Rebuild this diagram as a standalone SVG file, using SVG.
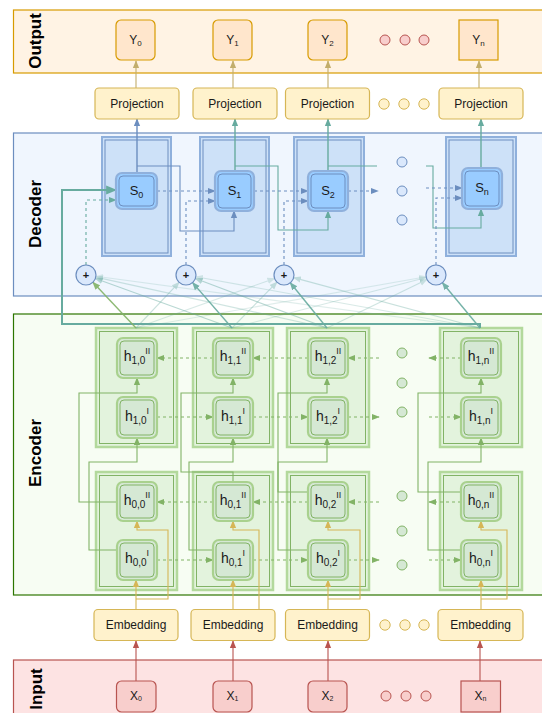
<svg xmlns="http://www.w3.org/2000/svg" width="542" height="713" viewBox="0 0 542 713">
<defs>
<style>
text{font-family:"Liberation Sans",Arial,Helvetica,sans-serif;fill:#1a1a1a}
.bl{font-size:17px;font-weight:bold;fill:#000}
.t12{font-size:12px}
.sub{font-size:8px}
.ybox{fill:#ffe6cc;stroke:#d79b00;stroke-width:1.2}
.pbox{fill:#fff2cc;stroke:#d6b656;stroke-width:1.2}
.xbox{fill:#f8cecc;stroke:#b85450;stroke-width:1.2}
.dcO{fill:#cde1f8;stroke:#8fb0dc;stroke-width:2}
.dcI{fill:none;stroke:#6c8ebf;stroke-width:1}
.sO{fill:#99ccff;stroke:#8fb0dc;stroke-width:2.2}
.sI{fill:none;stroke:#6c8ebf;stroke-width:1}
.ecO{fill:#e3f3dd;stroke:#b3d99c;stroke-width:2.5}
.ecI{fill:none;stroke:#82b366;stroke-width:1}
.hO{fill:#d5e8d4;stroke:#a9d18e;stroke-width:2.2}
.hI{fill:none;stroke:#82b366;stroke-width:1}
.plus{fill:#dae8fc;stroke:#6c8ebf;stroke-width:1.2}
.dotO{fill:#f8cecc;stroke:#b85450}
.dotY{fill:#fff2cc;stroke:#d6b656}
.dotB{fill:#dae8fc;stroke:#6c8ebf}
.dotG{fill:#d5e8d4;stroke:#82b366}
.c{fill:none;stroke-width:1.1}
.blue{stroke:#6c8ebf}
.teal{stroke:#67ab9f}
.green{stroke:#82b366}
.yel{stroke:#d6b656}
.red{stroke:#b85450}
.tan{stroke:#c2ad6b}
.dash{stroke-dasharray:3,3}
</style>
<marker id="aBlue" viewBox="0 0 10 10" refX="9" refY="5" markerWidth="8" markerHeight="8" markerUnits="userSpaceOnUse" orient="auto"><path d="M0,1 L10,5 L0,9 z" fill="#6c8ebf"/></marker>
<marker id="aTeal" viewBox="0 0 10 10" refX="9" refY="5" markerWidth="8" markerHeight="8" markerUnits="userSpaceOnUse" orient="auto"><path d="M0,1 L10,5 L0,9 z" fill="#67ab9f"/></marker>
<marker id="aTealL" viewBox="0 0 10 10" refX="9" refY="5" markerWidth="11" markerHeight="11" markerUnits="userSpaceOnUse" orient="auto"><path d="M0,1 L10,5 L0,9 z" fill="#67ab9f"/></marker>
<marker id="aGreen" viewBox="0 0 10 10" refX="9" refY="5" markerWidth="8" markerHeight="8" markerUnits="userSpaceOnUse" orient="auto"><path d="M0,1 L10,5 L0,9 z" fill="#82b366"/></marker>
<marker id="aYel" viewBox="0 0 10 10" refX="9" refY="5" markerWidth="8" markerHeight="8" markerUnits="userSpaceOnUse" orient="auto"><path d="M0,1 L10,5 L0,9 z" fill="#d6b656"/></marker>
<marker id="aRed" viewBox="0 0 10 10" refX="9" refY="5" markerWidth="8" markerHeight="8" markerUnits="userSpaceOnUse" orient="auto"><path d="M0,1 L10,5 L0,9 z" fill="#b85450"/></marker>
<marker id="aTan" viewBox="0 0 10 10" refX="9" refY="5" markerWidth="8" markerHeight="8" markerUnits="userSpaceOnUse" orient="auto"><path d="M0,1 L10,5 L0,9 z" fill="#c2ad6b"/></marker>
</defs>
<rect width="542" height="713" fill="#ffffff"/>

<!-- bands -->
<g id="band-output"><rect x="13.5" y="10" width="540" height="63" fill="#fff3e4" stroke="#d79b00" stroke-width="1.2"/><text class="bl" transform="translate(35,41) rotate(-90)" text-anchor="middle" dominant-baseline="central">Output</text></g>
<g id="band-decoder"><rect x="13.5" y="133" width="540" height="163" fill="#f0f6fe" stroke="#6c8ebf" stroke-width="1.2"/><text class="bl" transform="translate(35,214) rotate(-90)" text-anchor="middle" dominant-baseline="central">Decoder</text></g>
<g id="band-encoder"><rect x="13.5" y="314" width="540" height="281" fill="#f7fdf3" stroke="#2d7600" stroke-width="1.2"/><text class="bl" transform="translate(35,453) rotate(-90)" text-anchor="middle" dominant-baseline="central">Encoder</text></g>
<g id="band-input"><rect x="13.5" y="660" width="540" height="60" fill="#fde3e3" stroke="#b85450" stroke-width="1.2"/><text class="bl" transform="translate(36,689) rotate(-90)" text-anchor="middle" dominant-baseline="central">Input</text></g>

<!-- decoder containers -->
<g id="dec-cell-0"><rect class="dcO" x="102" y="137" width="69" height="119"/><rect class="dcI" x="105" y="140" width="63" height="113"/></g>
<g id="dec-cell-1"><rect class="dcO" x="200" y="137" width="69" height="119"/><rect class="dcI" x="203" y="140" width="63" height="113"/></g>
<g id="dec-cell-2"><rect class="dcO" x="294" y="137" width="70" height="119"/><rect class="dcI" x="297" y="140" width="64" height="113"/></g>
<g id="dec-cell-n"><rect class="dcO" x="446" y="137" width="70" height="119"/><rect class="dcI" x="449" y="140" width="64" height="113"/></g>

<!-- encoder containers -->
<g id="enc-cell-1-0"><rect class="ecO" x="96" y="328" width="81" height="119"/><rect class="ecI" x="99.5" y="331.5" width="74" height="112"/></g>
<g id="enc-cell-1-1"><rect class="ecO" x="193" y="328" width="80" height="119"/><rect class="ecI" x="196.5" y="331.5" width="73" height="112"/></g>
<g id="enc-cell-1-2"><rect class="ecO" x="287" y="328" width="82" height="119"/><rect class="ecI" x="290.5" y="331.5" width="75" height="112"/></g>
<g id="enc-cell-1-n"><rect class="ecO" x="440" y="328" width="82" height="119"/><rect class="ecI" x="443.5" y="331.5" width="75" height="112"/></g>
<g id="enc-cell-0-0"><rect class="ecO" x="96" y="472" width="81" height="118"/><rect class="ecI" x="99.5" y="475.5" width="74" height="111"/></g>
<g id="enc-cell-0-1"><rect class="ecO" x="193" y="472" width="80" height="118"/><rect class="ecI" x="196.5" y="475.5" width="73" height="111"/></g>
<g id="enc-cell-0-2"><rect class="ecO" x="287" y="472" width="82" height="118"/><rect class="ecI" x="290.5" y="475.5" width="75" height="111"/></g>
<g id="enc-cell-0-n"><rect class="ecO" x="440" y="472" width="82" height="118"/><rect class="ecI" x="443.5" y="475.5" width="75" height="111"/></g>

<!-- connectors -->
<g id="connectors">
<path class="c tan" d="M136,88 V61" marker-end="url(#aTan)"/>
<path class="c tan" d="M233,88 V61" marker-end="url(#aTan)"/>
<path class="c tan" d="M328,88 V61" marker-end="url(#aTan)"/>
<path class="c tan" d="M479,88 V61" marker-end="url(#aTan)"/>
<path class="c blue" d="M137,173 V119" marker-end="url(#aBlue)" style="stroke-width:1.4"/>
<path class="c teal" d="M235,171 V119" marker-end="url(#aTeal)" style="stroke-width:1.4"/>
<path class="c teal" d="M328,171 V119" marker-end="url(#aTeal)" style="stroke-width:1.4"/>
<path class="c teal" d="M481,168 V119" marker-end="url(#aTeal)" style="stroke-width:1.4"/>
<path class="c blue" d="M137,166 H180 V231 H234 V211" marker-end="url(#aBlue)"/>
<path class="c teal" d="M235,166 H278 V230 H328 V211" marker-end="url(#aTeal)"/>
<path class="c teal" d="M328,166 H377"/>
<path class="c teal" d="M426,166 H433 V228 H481 V209" marker-end="url(#aTeal)"/>
<path class="c blue dash" d="M157,191 H215" marker-end="url(#aBlue)"/>
<path class="c blue dash" d="M254,191 H308" marker-end="url(#aBlue)"/>
<path class="c blue dash" d="M348,191 H378" marker-end="url(#aBlue)"/>
<path class="c blue dash" d="M426,188 H462" marker-end="url(#aBlue)"/>
<path class="c teal dash" d="M86,265 V200 H116" marker-end="url(#aTeal)"/>
<path class="c blue dash" d="M186,265 V201 H215" marker-end="url(#aBlue)"/>
<path class="c blue dash" d="M284,265 V201 H308" marker-end="url(#aBlue)"/>
<path class="c blue dash" d="M436,265 V198 H462" marker-end="url(#aBlue)"/>
<path class="c teal" d="M480,328 V324 H62 V190 H116" marker-end="url(#aTealL)" style="stroke-width:2"/>
<path class="c green" d="M136,328 L92.9,282.3" marker-end="url(#aGreen)" opacity="0.9" style="stroke-width:1.4"/>
<path class="c teal" d="M136,328 L179.1,282.3" marker-end="url(#aTeal)" opacity="0.35"/>
<path class="c teal" d="M136,328 L274.6,278.4" marker-end="url(#aTeal)" opacity="0.25"/>
<path class="c teal" d="M136,328 L426.2,276.7" marker-end="url(#aTeal)" opacity="0.2"/>
<path class="c teal" d="M232,328 L95.4,278.4" marker-end="url(#aTeal)" opacity="0.45"/>
<path class="c teal" d="M232,328 L192.6,282.6" marker-end="url(#aTeal)" opacity="0.9" style="stroke-width:1.4"/>
<path class="c teal" d="M232,328 L277,282.1" marker-end="url(#aTeal)" opacity="0.35"/>
<path class="c teal" d="M232,328 L426.3,277.5" marker-end="url(#aTeal)" opacity="0.25"/>
<path class="c teal" d="M327,328 L95.8,277.1" marker-end="url(#aTeal)" opacity="0.3"/>
<path class="c teal" d="M327,328 L195.4,278.5" marker-end="url(#aTeal)" opacity="0.45"/>
<path class="c teal" d="M327,328 L290.3,282.8" marker-end="url(#aTeal)" opacity="0.9" style="stroke-width:1.4"/>
<path class="c teal" d="M327,328 L427,279.4" marker-end="url(#aTeal)" opacity="0.3"/>
<path class="c teal" d="M480,328 L95.9,276.3" marker-end="url(#aTeal)" opacity="0.2"/>
<path class="c teal" d="M480,328 L195.8,276.8" marker-end="url(#aTeal)" opacity="0.25"/>
<path class="c teal" d="M480,328 L293.7,277.6" marker-end="url(#aTeal)" opacity="0.35"/>
<path class="c teal" d="M480,328 L442.4,282.7" marker-end="url(#aTeal)" opacity="0.9" style="stroke-width:1.4"/>
<path class="c green dash" d="M213,358 H157" marker-end="url(#aGreen)"/>
<path class="c green dash" d="M308,358 H253" marker-end="url(#aGreen)"/>
<path class="c green dash" d="M379,358 H348" marker-end="url(#aGreen)"/>
<path class="c green dash" d="M461,358 H429" marker-end="url(#aGreen)"/>
<path class="c green dash" d="M157,417 H213" marker-end="url(#aGreen)"/>
<path class="c green dash" d="M253,417 H308" marker-end="url(#aGreen)"/>
<path class="c green dash" d="M348,417 H379" marker-end="url(#aGreen)"/>
<path class="c green dash" d="M429,417 H461" marker-end="url(#aGreen)"/>
<path class="c green dash" d="M213,502 H157" marker-end="url(#aGreen)"/>
<path class="c green dash" d="M308,502 H253" marker-end="url(#aGreen)"/>
<path class="c green dash" d="M379,502 H348" marker-end="url(#aGreen)"/>
<path class="c green dash" d="M461,502 H429" marker-end="url(#aGreen)"/>
<path class="c green dash" d="M157,560 H213" marker-end="url(#aGreen)"/>
<path class="c green dash" d="M253,560 H308" marker-end="url(#aGreen)"/>
<path class="c green dash" d="M348,560 H379" marker-end="url(#aGreen)"/>
<path class="c green dash" d="M429,560 H461" marker-end="url(#aGreen)"/>
<path class="c green" d="M117,502 H79 V393 H137 V378" marker-end="url(#aGreen)"/>
<path class="c green" d="M117,550 H89 V462 H137 V438" marker-end="url(#aGreen)"/>
<path class="c green" d="M233,482 V472 H181 V393 H233 V378" marker-end="url(#aGreen)"/>
<path class="c green" d="M213,550 H189 V462 H233 V438" marker-end="url(#aGreen)"/>
<path class="c green" d="M308,492 H278 V393 H327 V378" marker-end="url(#aGreen)"/>
<path class="c green" d="M308,550 H278 V462 H327 V438" marker-end="url(#aGreen)"/>
<path class="c green" d="M461,492 H418 V393 H481 V378" marker-end="url(#aGreen)"/>
<path class="c green" d="M461,550 H428 V462 H481 V438" marker-end="url(#aGreen)"/>
<path class="c yel" d="M136,609 V580" marker-end="url(#aYel)"/>
<path class="c yel" d="M136,599 H168 V530 H137 V521" marker-end="url(#aYel)"/>
<path class="c yel" d="M233,609 V580" marker-end="url(#aYel)"/>
<path class="c yel" d="M259,609 V530 H233 V521" marker-end="url(#aYel)"/>
<path class="c yel" d="M328,609 V580" marker-end="url(#aYel)"/>
<path class="c yel" d="M328,599 H360 V530 H328 V521" marker-end="url(#aYel)"/>
<path class="c yel" d="M481,609 V580" marker-end="url(#aYel)"/>
<path class="c yel" d="M481,599 H507 V530 H481 V521" marker-end="url(#aYel)"/>
<path class="c red" d="M136,681 V641" marker-end="url(#aRed)"/>
<path class="c red" d="M233,681 V641" marker-end="url(#aRed)"/>
<path class="c red" d="M328,681 V641" marker-end="url(#aRed)"/>
<path class="c red" d="M480,681 V641" marker-end="url(#aRed)"/>
</g>

<!-- outputs -->
<g id="y0"><rect class="ybox" x="116" y="20" width="39" height="40" rx="5"/><text x="135.5" y="44" text-anchor="middle" class="t12">Y<tspan class="sub" dy="2">0</tspan></text></g>
<g id="y1"><rect class="ybox" x="213" y="20" width="39" height="40" rx="5"/><text x="232.5" y="44" text-anchor="middle" class="t12">Y<tspan class="sub" dy="2">1</tspan></text></g>
<g id="y2"><rect class="ybox" x="308" y="20" width="39" height="40" rx="5"/><text x="327.5" y="44" text-anchor="middle" class="t12">Y<tspan class="sub" dy="2">2</tspan></text></g>
<g id="yn"><rect class="ybox" x="459" y="20" width="39" height="40"/><text x="478.5" y="44" text-anchor="middle" class="t12">Y<tspan class="sub" dy="2">n</tspan></text></g>
<g id="out-dots"><circle class="dotO" cx="385" cy="40" r="5"/><circle class="dotO" cx="405" cy="40" r="5"/><circle class="dotO" cx="424" cy="40" r="5"/></g>

<!-- projections -->
<g id="proj0"><rect class="pbox" x="95" y="88" width="84" height="31" rx="4"/><text x="137" y="107.5" text-anchor="middle" class="t12">Projection</text></g>
<g id="proj1"><rect class="pbox" x="193" y="88" width="84" height="31" rx="4"/><text x="235" y="107.5" text-anchor="middle" class="t12">Projection</text></g>
<g id="proj2"><rect class="pbox" x="285.5" y="88" width="84" height="31" rx="4"/><text x="327.5" y="107.5" text-anchor="middle" class="t12">Projection</text></g>
<g id="projn"><rect class="pbox" x="439" y="88" width="84" height="31" rx="4"/><text x="481" y="107.5" text-anchor="middle" class="t12">Projection</text></g>
<g id="proj-dots"><circle class="dotY" cx="384" cy="104" r="5.2"/><circle class="dotY" cx="404" cy="104" r="5.2"/><circle class="dotY" cx="424" cy="104" r="5.2"/></g>

<!-- decoder states -->
<g id="s0"><rect class="sO" x="116" y="173" width="41" height="36" rx="6"/><rect class="sI" x="119" y="176" width="35" height="30" rx="4"/><text x="136.5" y="195" text-anchor="middle" style="font-size:13px">S<tspan style="font-size:9px" dy="3">0</tspan></text></g>
<g id="s1"><rect class="sO" x="215" y="171" width="39" height="40" rx="6"/><rect class="sI" x="218" y="174" width="33" height="34" rx="4"/><text x="234.5" y="195" text-anchor="middle" style="font-size:13px">S<tspan style="font-size:9px" dy="3">1</tspan></text></g>
<g id="s2"><rect class="sO" x="308" y="171" width="40" height="40" rx="6"/><rect class="sI" x="311" y="174" width="34" height="34" rx="4"/><text x="328" y="195" text-anchor="middle" style="font-size:13px">S<tspan style="font-size:9px" dy="3">2</tspan></text></g>
<g id="sn"><rect class="sO" x="462" y="168" width="40" height="41" rx="6"/><rect class="sI" x="465" y="171" width="34" height="35" rx="4"/><text x="482" y="192" text-anchor="middle" style="font-size:13px">S<tspan style="font-size:9px" dy="3">n</tspan></text></g>
<g id="dec-dots"><circle class="dotB" cx="402" cy="162" r="5"/><circle class="dotB" cx="402" cy="191" r="5"/><circle class="dotB" cx="402" cy="220" r="5"/></g>

<!-- attention sums -->
<g id="plus0"><circle class="plus" cx="86" cy="275" r="10"/><text x="86" y="279" text-anchor="middle" style="font-size:11px;font-weight:bold">+</text></g>
<g id="plus1"><circle class="plus" cx="186" cy="275" r="10"/><text x="186" y="279" text-anchor="middle" style="font-size:11px;font-weight:bold">+</text></g>
<g id="plus2"><circle class="plus" cx="284" cy="275" r="10"/><text x="284" y="279" text-anchor="middle" style="font-size:11px;font-weight:bold">+</text></g>
<g id="plusn"><circle class="plus" cx="436" cy="275" r="10"/><text x="436" y="279" text-anchor="middle" style="font-size:11px;font-weight:bold">+</text></g>

<!-- encoder hidden nodes -->
<g id="h1-0-II"><rect class="hO" x="117" y="338" width="40" height="40" rx="6"/><rect class="hI" x="120" y="341" width="34" height="34" rx="4"/><text x="137" y="361" text-anchor="middle" style="font-size:14px">h<tspan style="font-size:10px" dy="3">1,0</tspan><tspan style="font-size:9px" dy="-10">II</tspan></text></g>
<g id="h1-1-II"><rect class="hO" x="213" y="338" width="40" height="40" rx="6"/><rect class="hI" x="216" y="341" width="34" height="34" rx="4"/><text x="233" y="361" text-anchor="middle" style="font-size:14px">h<tspan style="font-size:10px" dy="3">1,1</tspan><tspan style="font-size:9px" dy="-10">II</tspan></text></g>
<g id="h1-2-II"><rect class="hO" x="308" y="338" width="40" height="40" rx="6"/><rect class="hI" x="311" y="341" width="34" height="34" rx="4"/><text x="328" y="361" text-anchor="middle" style="font-size:14px">h<tspan style="font-size:10px" dy="3">1,2</tspan><tspan style="font-size:9px" dy="-10">II</tspan></text></g>
<g id="h1-n-II"><rect class="hO" x="461" y="338" width="40" height="40" rx="6"/><rect class="hI" x="464" y="341" width="34" height="34" rx="4"/><text x="481" y="361" text-anchor="middle" style="font-size:14px">h<tspan style="font-size:10px" dy="3">1,n</tspan><tspan style="font-size:9px" dy="-10">II</tspan></text></g>
<g id="h1-0-I"><rect class="hO" x="117" y="397" width="40" height="41" rx="6"/><rect class="hI" x="120" y="400" width="34" height="35" rx="4"/><text x="137" y="421" text-anchor="middle" style="font-size:14px">h<tspan style="font-size:10px" dy="3">1,0</tspan><tspan style="font-size:9px" dy="-10">I</tspan></text></g>
<g id="h1-1-I"><rect class="hO" x="213" y="397" width="40" height="41" rx="6"/><rect class="hI" x="216" y="400" width="34" height="35" rx="4"/><text x="233" y="421" text-anchor="middle" style="font-size:14px">h<tspan style="font-size:10px" dy="3">1,1</tspan><tspan style="font-size:9px" dy="-10">I</tspan></text></g>
<g id="h1-2-I"><rect class="hO" x="308" y="397" width="40" height="41" rx="6"/><rect class="hI" x="311" y="400" width="34" height="35" rx="4"/><text x="328" y="421" text-anchor="middle" style="font-size:14px">h<tspan style="font-size:10px" dy="3">1,2</tspan><tspan style="font-size:9px" dy="-10">I</tspan></text></g>
<g id="h1-n-I"><rect class="hO" x="461" y="397" width="40" height="41" rx="6"/><rect class="hI" x="464" y="400" width="34" height="35" rx="4"/><text x="481" y="421" text-anchor="middle" style="font-size:14px">h<tspan style="font-size:10px" dy="3">1,n</tspan><tspan style="font-size:9px" dy="-10">I</tspan></text></g>
<g id="h0-0-II"><rect class="hO" x="117" y="482" width="40" height="39" rx="6"/><rect class="hI" x="120" y="485" width="34" height="33" rx="4"/><text x="137" y="505" text-anchor="middle" style="font-size:14px">h<tspan style="font-size:10px" dy="3">0,0</tspan><tspan style="font-size:9px" dy="-10">II</tspan></text></g>
<g id="h0-1-II"><rect class="hO" x="213" y="482" width="40" height="39" rx="6"/><rect class="hI" x="216" y="485" width="34" height="33" rx="4"/><text x="233" y="505" text-anchor="middle" style="font-size:14px">h<tspan style="font-size:10px" dy="3">0,1</tspan><tspan style="font-size:9px" dy="-10">II</tspan></text></g>
<g id="h0-2-II"><rect class="hO" x="308" y="482" width="40" height="39" rx="6"/><rect class="hI" x="311" y="485" width="34" height="33" rx="4"/><text x="328" y="505" text-anchor="middle" style="font-size:14px">h<tspan style="font-size:10px" dy="3">0,2</tspan><tspan style="font-size:9px" dy="-10">II</tspan></text></g>
<g id="h0-n-II"><rect class="hO" x="461" y="482" width="40" height="39" rx="6"/><rect class="hI" x="464" y="485" width="34" height="33" rx="4"/><text x="481" y="505" text-anchor="middle" style="font-size:14px">h<tspan style="font-size:10px" dy="3">0,n</tspan><tspan style="font-size:9px" dy="-10">II</tspan></text></g>
<g id="h0-0-I"><rect class="hO" x="117" y="540" width="40" height="40" rx="6"/><rect class="hI" x="120" y="543" width="34" height="34" rx="4"/><text x="137" y="563" text-anchor="middle" style="font-size:14px">h<tspan style="font-size:10px" dy="3">0,0</tspan><tspan style="font-size:9px" dy="-10">I</tspan></text></g>
<g id="h0-1-I"><rect class="hO" x="213" y="540" width="40" height="40" rx="6"/><rect class="hI" x="216" y="543" width="34" height="34" rx="4"/><text x="233" y="563" text-anchor="middle" style="font-size:14px">h<tspan style="font-size:10px" dy="3">0,1</tspan><tspan style="font-size:9px" dy="-10">I</tspan></text></g>
<g id="h0-2-I"><rect class="hO" x="308" y="540" width="40" height="40" rx="6"/><rect class="hI" x="311" y="543" width="34" height="34" rx="4"/><text x="328" y="563" text-anchor="middle" style="font-size:14px">h<tspan style="font-size:10px" dy="3">0,2</tspan><tspan style="font-size:9px" dy="-10">I</tspan></text></g>
<g id="h0-n-I"><rect class="hO" x="461" y="540" width="40" height="40" rx="6"/><rect class="hI" x="464" y="543" width="34" height="34" rx="4"/><text x="481" y="563" text-anchor="middle" style="font-size:14px">h<tspan style="font-size:10px" dy="3">0,n</tspan><tspan style="font-size:9px" dy="-10">I</tspan></text></g>
<g id="enc-dots"><circle class="dotG" cx="402" cy="353" r="5"/><circle class="dotG" cx="402" cy="383" r="5"/><circle class="dotG" cx="402" cy="412" r="5"/><circle class="dotG" cx="402" cy="496" r="5"/><circle class="dotG" cx="402" cy="531" r="5"/><circle class="dotG" cx="402" cy="565" r="5"/></g>

<!-- embeddings -->
<g id="emb0"><rect class="pbox" x="94" y="609.5" width="84" height="31" rx="4"/><text x="136" y="629" text-anchor="middle" class="t12">Embedding</text></g>
<g id="emb1"><rect class="pbox" x="191" y="609.5" width="84" height="31" rx="4"/><text x="233" y="629" text-anchor="middle" class="t12">Embedding</text></g>
<g id="emb2"><rect class="pbox" x="285.5" y="609.5" width="84" height="31" rx="4"/><text x="327.5" y="629" text-anchor="middle" class="t12">Embedding</text></g>
<g id="embn"><rect class="pbox" x="438" y="609.5" width="85" height="31" rx="4"/><text x="480.5" y="629" text-anchor="middle" class="t12">Embedding</text></g>
<g id="emb-dots"><circle class="dotY" cx="385" cy="625" r="5.2"/><circle class="dotY" cx="405" cy="625" r="5.2"/><circle class="dotY" cx="424" cy="625" r="5.2"/></g>

<!-- inputs -->
<g id="x0"><rect class="xbox" x="116.5" y="681" width="39.5" height="31" rx="5"/><text x="136" y="700" text-anchor="middle" class="t12">X<tspan style="font-size:7px" dy="1">0</tspan></text></g>
<g id="x1"><rect class="xbox" x="213" y="681" width="39" height="31" rx="5"/><text x="232.5" y="700" text-anchor="middle" class="t12">X<tspan style="font-size:7px" dy="1">1</tspan></text></g>
<g id="x2"><rect class="xbox" x="308" y="681" width="39" height="31" rx="5"/><text x="327.5" y="700" text-anchor="middle" class="t12">X<tspan style="font-size:7px" dy="1">2</tspan></text></g>
<g id="xn"><rect class="xbox" x="461" y="681" width="39.5" height="31"/><text x="480.5" y="700" text-anchor="middle" class="t12">X<tspan style="font-size:7px" dy="1">n</tspan></text></g>
<g id="in-dots"><circle class="dotO" cx="386" cy="696" r="5"/><circle class="dotO" cx="406" cy="696" r="5"/><circle class="dotO" cx="426" cy="696" r="5"/></g>
</svg>
